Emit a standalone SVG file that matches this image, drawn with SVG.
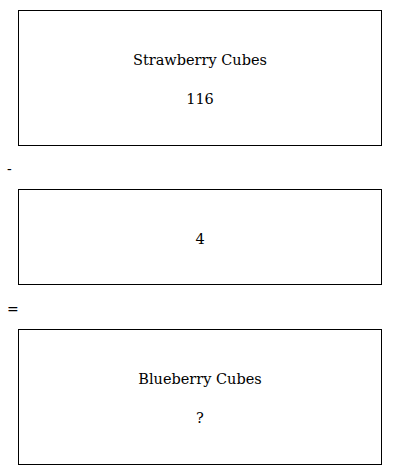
<svg xmlns="http://www.w3.org/2000/svg" width="400" height="475" viewBox="0 0 400 475">
<style>
.box{fill:#fff;stroke:#000;stroke-width:1}
.t{font-family:"DejaVu Serif","Liberation Serif",serif;font-size:14.5px;fill:#000;text-anchor:middle}
.op{font-family:"DejaVu Serif","Liberation Serif",serif;font-size:14px;fill:#000}
</style>
<rect width="400" height="475" fill="#fff"/>
<g id="strawberry">
<rect class="box" x="18.5" y="10.5" width="363" height="135"/>
<text class="t" x="200" y="65">Strawberry Cubes</text>
<text class="t" x="200" y="104">116</text>
</g>
<g id="minus"><text class="op" x="7" y="174">-</text></g>
<g id="subtrahend">
<rect class="box" x="18.5" y="189.5" width="363" height="95"/>
<text class="t" x="200" y="244">4</text>
</g>
<g id="equals"><text class="op" x="7" y="314">=</text></g>
<g id="blueberry">
<rect class="box" x="18.5" y="329.5" width="363" height="135"/>
<text class="t" x="200" y="384">Blueberry Cubes</text>
<text class="t" x="200" y="423">?</text>
</g>
<g id="connectors"></g>
</svg>
